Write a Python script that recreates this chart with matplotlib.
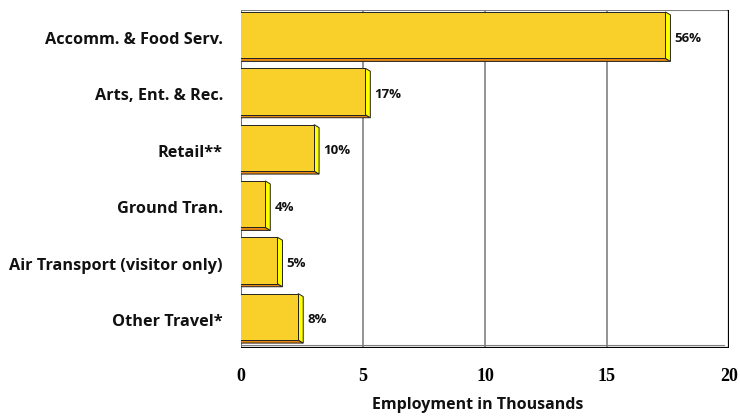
import matplotlib
matplotlib.use("Agg")
import matplotlib.pyplot as plt
import matplotlib.transforms as mtransforms
from matplotlib.patches import Polygon
import numpy as np

# ---- data -------------------------------------------------------------
categories = [
    "Accomm. & Food Serv.",
    "Arts, Ent. & Rec.",
    "Retail**",
    "Ground Tran.",
    "Air Transport (visitor only)",
    "Other Travel*",
]
employment = [17.6, 5.3, 3.2, 1.2, 1.7, 2.55]   # thousands of jobs
x_ticks = [0, 5, 10, 15, 20]
x_title = "Employment in Thousands"

# ---- styling ----------------------------------------------------------
DPI = 100
FRONT = "#F9CF2A"
SIDE = "#FFFF00"
BOTTOM = "#E8870E"
EDGE = "#222222"
WALL = "#C0C0C0"
SANS = ["Open Sans", "DejaVu Sans"]
SERIF = ["Liberation Serif", "DejaVu Serif"]

fig = plt.figure(figsize=(7.4, 4.16), dpi=DPI)
# the axes box is the back wall of the 3-D plot area
ax = fig.add_axes([241 / 740, 68 / 416, 488 / 740, 338 / 416])
ax.set_xlim(x_ticks[0], x_ticks[-1])
ax.set_ylim(-0.5, len(categories) - 0.5)
for s in ax.spines.values():
    s.set_visible(False)

# front plane sits up and to the left of the back wall
front = ax.transData + mtransforms.ScaledTranslation(-5 / DPI, 3 / DPI, fig.dpi_scale_trans)
ident = mtransforms.IdentityTransform()


def P(x, y, rear=False):
    return (ax.transData if rear else front).transform((x, y))


def poly(points, **kw):
    ax.add_patch(Polygon(points, closed=True, transform=ident, **kw))


y0, y1 = ax.get_ylim()
xmin, xmax = ax.get_xlim()

# left wall
poly([P(xmin, y0), P(xmin, y1), P(xmin, y1, True), P(xmin, y0, True)],
     facecolor=WALL, edgecolor="black", linewidth=0.8, zorder=1)

# gridlines on the back wall
ax.vlines(x_ticks[1:-1], y0, y1, colors="#808080", linewidth=1.2, zorder=0.5)
# small depth marks where the gridlines meet the top edge
for v in x_ticks:
    a, b = P(v, y1), P(v, y1, True)
    ax.add_line(plt.Line2D([a[0], b[0]], [a[1], b[1]], transform=ident,
                           color="black", linewidth=0.8, zorder=2))

# floor front edge and back-wall top edge
for (p, q) in [(P(xmin, y0), P(xmax, y0)), (P(xmin, y1, True), P(xmax, y1, True))]:
    ax.add_line(plt.Line2D([p[0], q[0]], [p[1], q[1]], transform=ident,
                           color="#808080", linewidth=0.8, zorder=2))

# outer frame
frame = [P(xmin, y1), P(xmax, y1), P(xmax, y1, True), P(xmax, y0, True),
         P(xmin, y0, True), P(xmin, y0)]
poly(frame, fill=False, edgecolor="black", linewidth=1.6, zorder=3)

# ---- bars -------------------------------------------------------------
ypos = np.arange(len(categories))[::-1]
bars = ax.barh(ypos, employment, height=0.825, color=FRONT, edgecolor=EDGE,
               linewidth=0.7, transform=front, zorder=6)
ax.set_xlim(xmin, xmax)
ax.set_ylim(y0, y1)

for bar in bars:
    bx, by = bar.get_x(), bar.get_y()
    bw, bh = bar.get_width(), bar.get_height()
    # underside
    poly([P(bx, by), P(bx + bw, by), P(bx + bw, by, True), P(bx, by, True)],
         facecolor=BOTTOM, edgecolor=EDGE, linewidth=0.7, zorder=4)
    # right end
    poly([P(bx + bw, by), P(bx + bw, by + bh), P(bx + bw, by + bh, True), P(bx + bw, by, True)],
         facecolor=SIDE, edgecolor=EDGE, linewidth=0.7, zorder=5)

total = sum(employment)
for v, yc in zip(employment, ypos):
    ax.annotate(f"{round(v / total * 100)}%", xy=(v, yc), xytext=(3, 0),
                textcoords="offset points", va="center", ha="left",
                fontsize=9.5, fontweight="bold", family=SANS, color="#111111", zorder=7)

# ---- axes text --------------------------------------------------------
ax.set_yticks(ypos)
ax.set_yticklabels(categories, fontsize=11.7, fontweight="bold", family=SANS, color="#111111")
ax.tick_params(axis="y", length=0, pad=13)
ax.set_xticks(x_ticks)
ax.set_xticklabels([str(t) for t in x_ticks], fontsize=13, fontweight="bold", family=SERIF)
ax.tick_params(axis="x", length=0, pad=14.4)
ax.set_xlabel(x_title, fontsize=11.5, fontweight="bold", family=SANS, color="#111111")
ax.xaxis.set_label_coords(0.486, -0.145)

fig.savefig("out.png", dpi=DPI)
